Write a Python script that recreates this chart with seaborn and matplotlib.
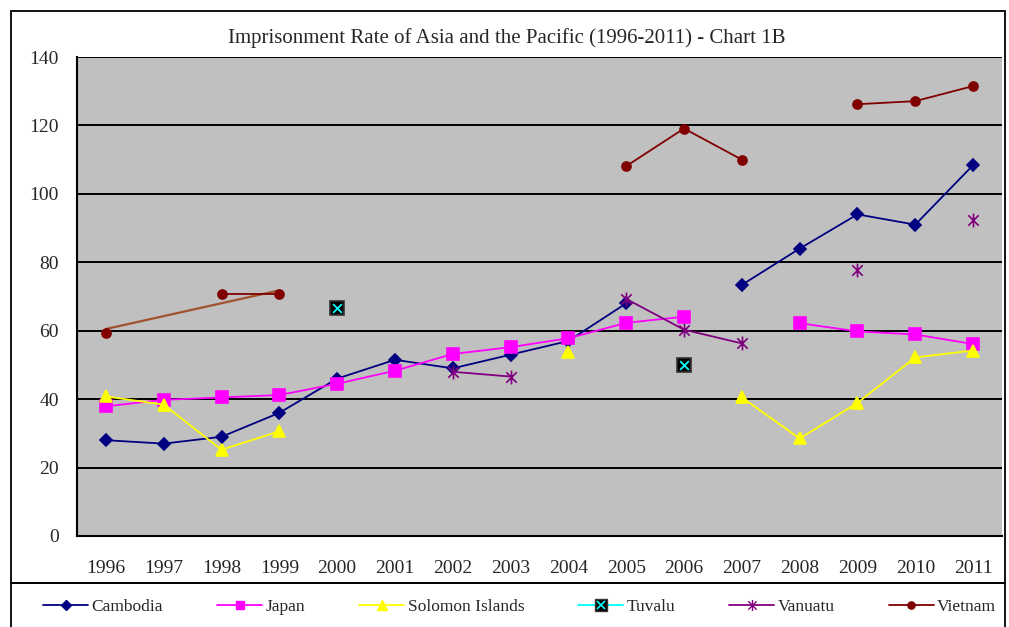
import numpy as np
import pandas as pd
import matplotlib
matplotlib.use("Agg")
import matplotlib.pyplot as plt
import seaborn as sns
from matplotlib.lines import Line2D
from matplotlib.patches import Rectangle
from matplotlib.path import Path
from matplotlib.ticker import FixedLocator

nan = np.nan
years = [str(y) for y in range(1996, 2012)]
title = "Imprisonment Rate of Asia and the Pacific (1996-2011) - Chart 1B"

cambodia = [28, 27, 29, 36, 46, 51.5, 49, 53, 57, 68, nan, 73.4, 84, 94, 91, 108.4]
japan = [37.9, 39.8, 40.5, 41.2, 44.5, 48.3, 53.2, 55.2, 57.8, 62.3, 64.1, nan, 62.2, 59.8, 58.9, 56.1]
solomon = [40.8, 38.4, 25.2, 30.6, nan, nan, nan, nan, 53.7, nan, nan, 40.5, 28.5, 38.9, 52.2, 54.2]
tuvalu = [nan, nan, nan, nan, 66.6, nan, nan, nan, nan, nan, 50.0, nan, nan, nan, nan, nan]
vanuatu = [nan, nan, nan, nan, nan, nan, 48.0, 46.6, nan, 69.3, 60.3, 56.3, nan, 77.6, nan, 92.5]
vietnam = [59.4, nan, 70.8, 70.8, nan, nan, nan, nan, nan, 108.1, 119.1, 110.0, nan, 126.2, 127.1, 131.5]
vietnam_trend_years = ["1996", "1999"]
vietnam_trend = [60.5, 71.8]

series_names = ["Cambodia", "Japan", "Solomon Islands", "Tuvalu", "Vanuatu", "Vietnam"]
series_values = [cambodia, japan, solomon, tuvalu, vanuatu, vietnam]

sns.set_style("white")
plt.rcParams["font.family"] = ["Liberation Serif", "DejaVu Serif"]

W, H = 1009, 627
fig = plt.figure(figsize=(W / 100, H / 100), dpi=100)
ax = fig.add_axes([77 / W, 1 - 536 / H, (1002 - 77) / W, (536 - 57) / H])
ax.set_facecolor("#C0C0C0")

# Excel-style star: an "x" with a vertical stroke
star = Path([(0, -1), (0, 1), (-0.75, -0.75), (0.75, 0.75), (-0.75, 0.75), (0.75, -0.75)],
            [Path.MOVETO, Path.LINETO, Path.MOVETO, Path.LINETO, Path.MOVETO, Path.LINETO])


def seg_frame(vals):
    rows = []
    seg, prev = 0, False
    for i, v in enumerate(vals):
        if np.isnan(v):
            prev = False
            continue
        if not prev:
            seg += 1
        prev = True
        rows.append({"x": i, "y": v, "seg": seg})
    return pd.DataFrame(rows)


styles = {
    "Cambodia": dict(color="#000080", marker="D", markersize=6.5, mfc="#000080", mec="#000080"),
    "Japan": dict(color="#FF00FF", marker="s", markersize=8, mfc="#FF00FF", mec="#FF00FF"),
    "Solomon Islands": dict(color="#FFFF00", marker="^", markersize=9, mfc="#FFFF00", mec="#FFFF00"),
    "Tuvalu": dict(color="#00FFFF", marker="s", markersize=10, mfc="black", mec="#333333"),
    "Vanuatu": dict(color="#800080", marker=star, markersize=10, mfc="none", mec="#800080"),
    "Vietnam": dict(color="#800000", marker="o", markersize=6.5, mfc="#800000", mec="#800000"),
}

# trend line for Vietnam (drawn under)
trend_df = pd.DataFrame({"x": [years.index(y) for y in vietnam_trend_years], "y": vietnam_trend})
sns.lineplot(data=trend_df, x="x", y="y", color="#A0522D", lw=1.6, ax=ax, legend=False, zorder=3)

for name, vals in zip(series_names, series_values):
    st = styles[name]
    d = seg_frame(vals)
    sns.lineplot(data=d, x="x", y="y", units="seg", estimator=None, ax=ax, legend=False,
                 color=st["color"], lw=1.3, marker=st["marker"], markersize=st["markersize"],
                 markerfacecolor=st["mfc"], markeredgecolor=st["mec"], markeredgewidth=1.2,
                 zorder=4)
    if name == "Tuvalu":
        sns.scatterplot(data=d, x="x", y="y", marker="x", color="#00FFFF", s=40,
                        linewidth=1.3, ax=ax, legend=False, zorder=5)

ax.set_xlim(-0.5, 15.5)
ax.set_ylim(0, 140)
ax.set_yticks(np.arange(0, 141, 20))
ax.set_xticks(range(16))
ax.set_xticklabels(years, fontsize=14)
ax.tick_params(axis="y", labelsize=14, length=0, pad=13)
ax.tick_params(axis="x", which="major", length=0, pad=17)
ax.xaxis.set_minor_locator(FixedLocator(np.arange(0.5, 15.0, 1)))
ax.tick_params(axis="x", which="minor", direction="in", length=6, width=1.2, color="black")
ax.set_xlabel("")
ax.set_ylabel("")
ax.grid(True, axis="y", color="black", lw=1.4)
ax.grid(False, axis="x")
for s in ["top", "right"]:
    ax.spines[s].set_visible(False)
for s in ["left", "bottom"]:
    ax.spines[s].set_color("black")
    ax.spines[s].set_linewidth(1.5)
ax.set_axisbelow(True)

fig.text(507 / W, 1 - 38 / H, title, ha="center", va="center", fontsize=15)

# chart frame and legend box (legend box shares the top border and runs off the bottom)
fig.add_artist(Rectangle((11 / W, 1 - 583 / H), (1005 - 11) / W, (583 - 11) / H,
                         transform=fig.transFigure, fill=False, ec="black", lw=1.3))
fig.add_artist(Rectangle((11 / W, -0.05), (1005 - 11) / W, (1 - 583 / H) + 0.05,
                         transform=fig.transFigure, fill=False, ec="black", lw=1.3))

handles = []
for name in series_names:
    st = styles[name]
    h = Line2D([], [], color=st["color"], lw=1.3, marker=st["marker"],
               markersize=st["markersize"] * (0.8 if name != "Tuvalu" else 0.9),
               markerfacecolor=st["mfc"], markeredgecolor=st["mec"])
    if name == "Tuvalu":
        h2 = Line2D([], [], ls="none", marker="x", color="#00FFFF", markersize=6, markeredgewidth=1.2)
        h = (h, h2)
    handles.append(h)
fig.legend(handles, series_names, loc="center", bbox_to_anchor=(0.515, 1 - 607 / H), ncol=6,
           frameon=False, fontsize=12.5, handlelength=2.6, handletextpad=0.2, columnspacing=3.1)

fig.savefig("out.png", dpi=100)
